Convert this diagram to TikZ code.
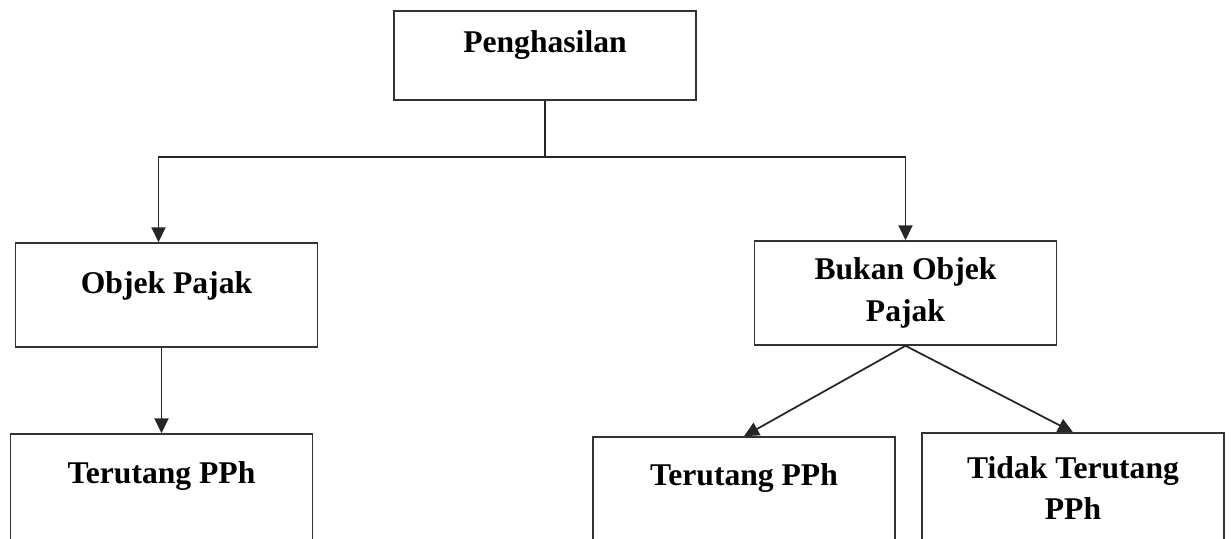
\documentclass[tikz,border=0pt]{standalone}
\usepackage{fontspec}
\setmainfont{Liberation Serif}
\usetikzlibrary{arrows.meta,positioning}

\begin{document}
\begin{tikzpicture}[x=0.02cm,y=-0.02cm,
  box/.style={draw=black!80,line width=0.9pt,minimum width=6.04cm,minimum height=2.08cm,inner sep=0pt,align=center,font=\bfseries\fontsize{18}{23.8}\selectfont},
  conn/.style={draw=black!85,line width=1pt},
  arr/.style={conn,-{Triangle[length=8.5pt,width=8pt]}}]
\clip (0,0) rectangle (1231,538);
% boxes
\node[box,minimum height=1.78cm,text height=0.82cm,text depth=0.96cm] (pengh) at (545,55.5) {Penghasilan};
\node[box,text height=1.0cm,text depth=1.08cm] (objek) at (166.5,295) {Objek Pajak};
\node[box] (bukan) at (905.5,293) {Bukan Objek\\Pajak};
\node[box,minimum height=2.2cm,text height=0.98cm,text depth=1.22cm] (tleft) at (161.5,489) {Terutang PPh};
\node[box,minimum height=2.2cm,text height=0.96cm,text depth=1.24cm] (tmid) at (744,492) {Terutang PPh};
\node[box,minimum height=2.2cm] (tidak) at (1073,488) {Tidak Terutang\\PPh};
% connectors
\coordinate (fork) at (pengh.south |- 0,157);
\draw[conn] (pengh.south) -- (fork);
\draw[arr] (fork) -| ([xshift=-0.16cm]objek.north);
\draw[arr] (fork) -| (bukan.north);
\draw[arr] (objek.south -| tleft.north) -- (tleft.north);
\draw[arr] (bukan.south) -- (tmid.north);
\draw[arr] (bukan.south) -- (tidak.north);
\end{tikzpicture}
\end{document}
